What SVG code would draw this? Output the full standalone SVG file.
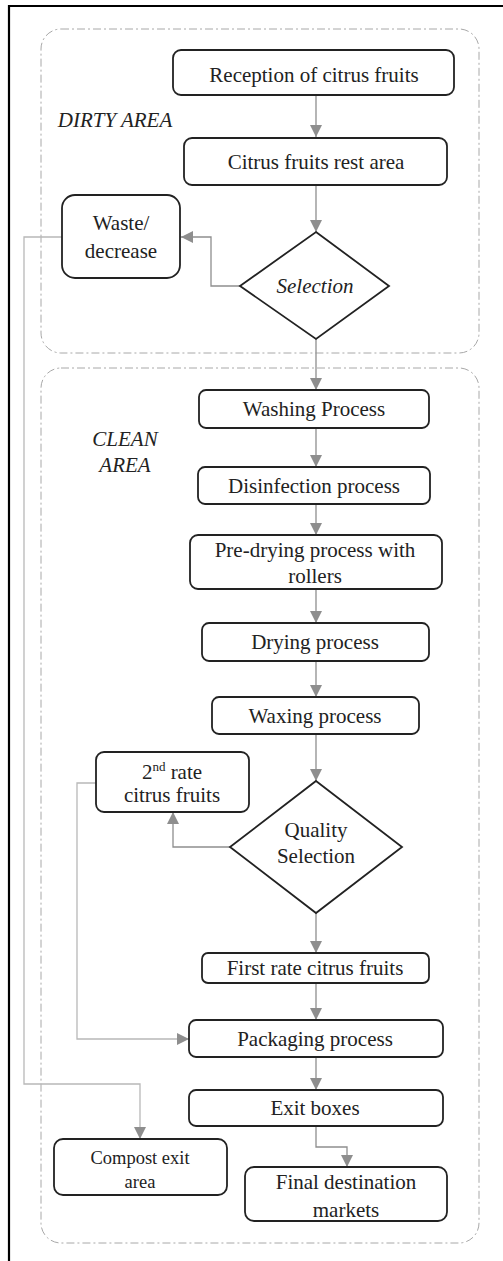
<svg xmlns="http://www.w3.org/2000/svg" width="503" height="1261" viewBox="0 0 503 1261">
<style>
.box{fill:#fff;stroke:#222;stroke-width:1.8}
.area{fill:none;stroke:#a8a8a8;stroke-width:1;stroke-dasharray:8 3 2 3}
text{font-family:'Liberation Serif','Times New Roman','DejaVu Serif',serif;font-size:21px;fill:#222;text-anchor:middle}
.s{font-size:18.5px}
.i{font-style:italic}
.ca{fill:none;stroke:#8e8e8e;stroke-width:1.3;marker-end:url(#ah)}
.cla{fill:none;stroke:#b8b8b8;stroke-width:1.3;marker-end:url(#ah)}
</style>
<defs>
<marker id="ah" markerWidth="12" markerHeight="12" viewBox="0 0 12 12" refX="12" refY="6" orient="auto" markerUnits="userSpaceOnUse">
<path d="M0,0 L12,6 L0,12 z" fill="#8e8e8e"/>
</marker>
</defs>
<rect width="503" height="1261" fill="#fff"/>
<path d="M9,1261 V6 H503" fill="none" stroke="#000" stroke-width="2.2"/>

<g id="dirty-area">
<rect class="area" x="41" y="29" width="438" height="324" rx="20"/>
<text class="i" x="115" y="127">DIRTY AREA</text>
</g>
<g id="clean-area">
<rect class="area" x="41" y="368" width="438" height="875" rx="20"/>
<text class="i" x="125" y="446">CLEAN</text>
<text class="i" x="125" y="472">AREA</text>
</g>

<g id="connectors">
<path class="ca" d="M316,95 V137"/>
<path class="ca" d="M316,185 V232"/>
<path class="ca" d="M240,286 H211 V237 H181"/>
<path class="cla" d="M62,237 H24 V1084 H140 V1139"/>
<path class="ca" d="M316,339 V390"/>
<path class="ca" d="M316,428 V467"/>
<path class="ca" d="M316,504 V535"/>
<path class="ca" d="M316,589 V623"/>
<path class="ca" d="M316,661 V697"/>
<path class="ca" d="M316,734 V781"/>
<path class="ca" d="M230,847 H173 V812"/>
<path class="cla" d="M96,783 H77 V1039 H189"/>
<path class="ca" d="M316,913 V953"/>
<path class="ca" d="M316,983 V1020"/>
<path class="ca" d="M316,1057 V1090"/>
<path class="ca" d="M316,1126 V1147 H347 V1167"/>
</g>

<g id="reception">
<rect class="box" x="173" y="50" width="281" height="45" rx="8"/>
<text x="314" y="82">Reception of citrus fruits</text>
</g>
<g id="rest-area">
<rect class="box" x="184" y="138" width="263" height="47" rx="8"/>
<text x="316" y="169">Citrus fruits rest area</text>
</g>
<g id="waste">
<rect class="box" x="62" y="195" width="118" height="83" rx="13"/>
<text x="121" y="230">Waste/</text>
<text x="121" y="258">decrease</text>
</g>
<g id="selection">
<polygon class="box" points="316,232 389,286 316,339 240,286"/>
<text class="i" x="315" y="293">Selection</text>
</g>
<g id="washing">
<rect class="box" x="199" y="390" width="230" height="38" rx="7"/>
<text x="314" y="416">Washing Process</text>
</g>
<g id="disinfection">
<rect class="box" x="198" y="467" width="232" height="37" rx="7"/>
<text x="314" y="493">Disinfection process</text>
</g>
<g id="pre-drying">
<rect class="box" x="190" y="535" width="252" height="54" rx="8"/>
<text x="315" y="557">Pre-drying process with</text>
<text x="315" y="583">rollers</text>
</g>
<g id="drying">
<rect class="box" x="202" y="623" width="227" height="38" rx="7"/>
<text x="315" y="649">Drying process</text>
</g>
<g id="waxing">
<rect class="box" x="212" y="697" width="207" height="37" rx="7"/>
<text x="315" y="723">Waxing process</text>
</g>
<g id="second-rate">
<rect class="box" x="96" y="752" width="153" height="60" rx="8"/>
<text x="172" y="779">2<tspan font-size="13" dy="-8">nd</tspan><tspan dy="8"> rate</tspan></text>
<text x="172" y="802">citrus fruits</text>
</g>
<g id="quality-selection">
<polygon class="box" points="316,781 402,847 316,913 230,847"/>
<text x="316" y="837">Quality</text>
<text x="316" y="863">Selection</text>
</g>
<g id="first-rate">
<rect class="box" x="202" y="953" width="227" height="30" rx="6"/>
<text x="315" y="975">First rate citrus fruits</text>
</g>
<g id="packaging">
<rect class="box" x="189" y="1020" width="254" height="37" rx="7"/>
<text x="315" y="1046">Packaging process</text>
</g>
<g id="exit-boxes">
<rect class="box" x="189" y="1090" width="254" height="36" rx="7"/>
<text x="315" y="1115">Exit boxes</text>
</g>
<g id="compost">
<rect class="box" x="54" y="1139" width="173" height="56" rx="9"/>
<text class="s" x="140" y="1164">Compost exit</text>
<text class="s" x="140" y="1188">area</text>
</g>
<g id="final-markets">
<rect class="box" x="245" y="1167" width="202" height="54" rx="9"/>
<text x="346" y="1189">Final destination</text>
<text x="346" y="1217">markets</text>
</g>
</svg>
